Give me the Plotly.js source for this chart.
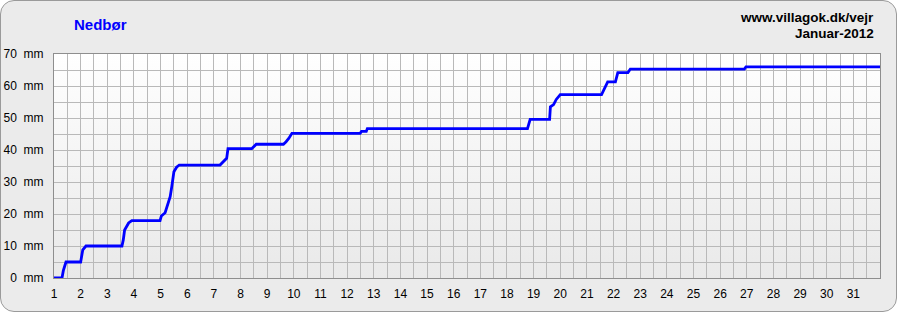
<!DOCTYPE html>
<html>
<head>
<meta charset="utf-8">
<script src="https://cdn.plot.ly/plotly-3.0.1.min.js"></script>
<style>
html,body{margin:0;padding:0;background:#fff;}
#wrap{position:relative;width:897px;height:312px;}
#frame{position:absolute;left:0;top:0;width:895px;height:310px;border:1px solid #9a9a9a;border-radius:14px;background:#ebebeb;}
#grad{position:absolute;left:54px;top:54px;width:826px;height:224px;background:linear-gradient(#ffffff,#e9e9e9);}
#chart{position:absolute;left:0;top:0;width:897px;height:312px;}
</style>
</head>
<body>
<div id="wrap"><div id="frame"></div><div id="grad"></div><div id="chart"></div></div>
<script>
const days = [1, 1.3, 1.35, 1.45, 2.0, 2.08, 2.2, 3.55, 3.6, 3.65, 3.8, 3.92, 4.98, 5.03, 5.17, 5.25, 5.36, 5.42, 5.5, 5.6, 5.7,
  7.23, 7.38, 7.48, 7.53, 8.42, 8.59, 9.61, 9.71, 9.81, 9.93, 12.49, 12.54, 12.72, 12.76, 18.77, 18.87,
  19.6, 19.63, 19.75, 19.85, 20.0, 21.55, 21.73, 21.78, 22.07, 22.16, 22.54, 22.63, 26.91, 26.97, 32];
const rainMm = [0, 0, 2.3, 5.0, 5.0, 8.8, 10.0, 10.0, 11.9, 15.0, 17.2, 17.9, 17.9, 19.4, 20.4, 22.3, 25.4, 28.5, 33.2, 34.6, 35.3,
  35.3, 36.7, 37.4, 40.4, 40.4, 41.8, 41.8, 42.6, 43.6, 45.2, 45.2, 45.8, 45.8, 46.7, 46.7, 49.6,
  49.6, 53.5, 54.2, 55.8, 57.3, 57.3, 60.3, 61.3, 61.3, 64.2, 64.2, 65.3, 65.3, 66.0, 66.0];
const yTickVals = [0, 10, 20, 30, 40, 50, 60, 70];
const yTickText = yTickVals.map(v => v + '\u00a0\u00a0mm');
const xTickVals = Array.from({length: 31}, (_, i) => i + 1);

const fam = 'Liberation Sans, Arial, sans-serif';
const font = {family: fam, size: 12, color: '#000'};
Plotly.newPlot('chart', [{
  x: days, y: rainMm, type: 'scatter', mode: 'lines',
  line: {color: '#0000ff', width: 2.8, shape: 'linear'}, hoverinfo: 'skip'
}], {
  width: 897, height: 312,
  margin: {l: 54, r: 17, t: 54, b: 34},
  paper_bgcolor: 'rgba(0,0,0,0)', plot_bgcolor: 'rgba(0,0,0,0)',
  showlegend: false, font: font,
  xaxis: {range: [1, 32], tickvals: xTickVals, ticktext: xTickVals.map(String),
    showgrid: true, gridcolor: '#b9b9b9', gridwidth: 1, zeroline: false,
    minor: {dtick: 0.5, tick0: 1, showgrid: true, gridcolor: '#b9b9b9', gridwidth: 1},
    showline: true, linecolor: '#8e8e8e', linewidth: 1, mirror: true,
    ticks: '', ticklen: 0, ticklabelstandoff: 5, tickfont: font, fixedrange: true},
  yaxis: {range: [0, 70], tickvals: yTickVals, ticktext: yTickText,
    showgrid: true, gridcolor: '#b9b9b9', gridwidth: 1, zeroline: false,
    minor: {dtick: 5, tick0: 0, showgrid: true, gridcolor: '#b9b9b9', gridwidth: 1},
    showline: true, linecolor: '#8e8e8e', linewidth: 1, mirror: true,
    ticks: '', ticklen: 0, ticklabelstandoff: 7, tickfont: font, fixedrange: true},
  annotations: [
    {text: '<b>Nedbør</b>', xref: 'paper', yref: 'paper', x: (72-54)/826, y: 1 + (54-25)/224,
      xanchor: 'left', yanchor: 'middle', showarrow: false,
      font: {family: fam, size: 15, color: '#0000ff'}},
    {text: '<b>www.villagok.dk/vejr</b>', xref: 'paper', yref: 'paper', x: (876-54)/826, y: 1 + (54-18)/224,
      xanchor: 'right', yanchor: 'middle', showarrow: false,
      font: {family: fam, size: 13.5, color: '#000'}},
    {text: '<b>Januar-2012</b>', xref: 'paper', yref: 'paper', x: (876-54)/826, y: 1 + (54-33)/224,
      xanchor: 'right', yanchor: 'middle', showarrow: false,
      font: {family: fam, size: 13.5, color: '#000'}}
  ]
}, {staticPlot: true});
</script>
</body>
</html>
